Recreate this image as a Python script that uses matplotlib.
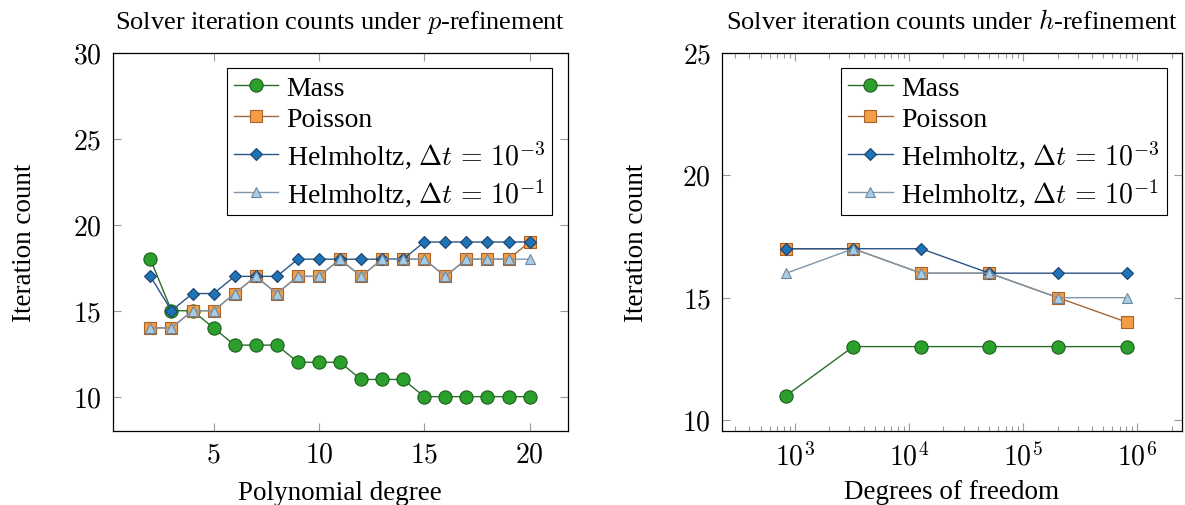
import numpy as np
import matplotlib
matplotlib.use("Agg")
import matplotlib.pyplot as plt
from matplotlib.ticker import FixedLocator, FuncFormatter, LogLocator, NullFormatter

plt.rcParams["font.family"] = ["Liberation Serif", "DejaVu Serif"]
plt.rcParams["mathtext.fontset"] = "cm"

# p-refinement
degrees = list(range(2, 21))
p_mass = [18, 15, 15, 14, 13, 13, 13, 12, 12, 12, 11, 11, 11, 10, 10, 10, 10, 10, 10]
p_poisson = [14, 14, 15, 15, 16, 17, 16, 17, 17, 18, 17, 18, 18, 18, 17, 18, 18, 18, 19]
p_helm3 = [17, 15, 16, 16, 17, 17, 17, 18, 18, 18, 18, 18, 18, 19, 19, 19, 19, 19, 19]
p_helm1 = [14, 14, 15, 15, 16, 17, 16, 17, 17, 18, 17, 18, 18, 18, 17, 18, 18, 18, 18]

# h-refinement
dofs = [841, 3249, 12769, 50625, 201601, 804609]
h_mass = [11, 13, 13, 13, 13, 13]
h_poisson = [17, 17, 16, 16, 15, 14]
h_helm3 = [17, 17, 17, 16, 16, 16]
h_helm1 = [16, 17, 16, 16, 15, 15]

labels = ["Mass", "Poisson", r"Helmholtz, $\Delta t\,=\,10^{-3}$", r"Helmholtz, $\Delta t\,=\,10^{-1}$"]
styles = [
    dict(marker="o", ms=9.5, color="#2b6e2b", mfc="#2ca02c", mec="#1d5e1d"),
    dict(marker="s", ms=8.5, color="#a0683c", mfc="#f59d45", mec="#a8622a"),
    dict(marker="D", ms=6, color="#2a5585", mfc="#1f72b4", mec="#1a4270"),
    dict(marker="^", ms=7.5, color="#7f97ad", mfc="#a7cde6", mec="#6c879e"),
]

fig = plt.figure(figsize=(11.85, 5.06), dpi=100)
ax1 = fig.add_axes([112.5 / 1185, 1 - 432 / 506, 455 / 1185, 378 / 506])
ax2 = fig.add_axes([722 / 1185, 1 - 432 / 506, 460 / 1185, 378 / 506])

for ys, lab, st in zip([p_mass, p_poisson, p_helm3, p_helm1], labels, styles):
    ax1.plot(degrees, ys, lw=1.0, mew=0.8, label=lab, **st)
for ys, lab, st in zip([h_mass, h_poisson, h_helm3, h_helm1], labels, styles):
    ax2.plot(dofs, ys, lw=1.0, mew=0.8, label=lab, **st)

mathfmt = FuncFormatter(lambda v, pos: r"$%d$" % v)

ax1.set_xlim(0.2, 21.8)
ax1.set_ylim(8, 30)
ax1.xaxis.set_major_locator(FixedLocator([5, 10, 15, 20]))
ax1.yaxis.set_major_locator(FixedLocator([10, 15, 20, 25, 30]))
ax1.xaxis.set_major_formatter(mathfmt)
ax1.yaxis.set_major_formatter(mathfmt)
ax1.set_title(r"Solver iteration counts under $p$-refinement", fontsize=19, pad=18)
ax1.set_xlabel("Polynomial degree", fontsize=19.5, labelpad=9)
ax1.set_ylabel("Iteration count", fontsize=19.5, labelpad=26)

ax2.set_xscale("log")
ax2.set_xlim(230, 2.46e6)
ax2.set_ylim(9.55, 25)
ax2.xaxis.set_major_locator(FixedLocator([1e3, 1e4, 1e5, 1e6]))
ax2.xaxis.set_major_formatter(FuncFormatter(lambda v, pos: r"$10^{%d}$" % round(np.log10(v))))
ax2.xaxis.set_minor_locator(LogLocator(base=10, subs=np.arange(2, 10)))
ax2.xaxis.set_minor_formatter(NullFormatter())
ax2.yaxis.set_major_locator(FixedLocator([10, 15, 20, 25]))
ax2.yaxis.set_major_formatter(mathfmt)
ax2.set_title(r"Solver iteration counts under $h$-refinement", fontsize=19, pad=18)
ax2.set_xlabel("Degrees of freedom", fontsize=19.5, labelpad=6)
ax2.set_ylabel("Iteration count", fontsize=19.5, labelpad=24)

for ax in (ax1, ax2):
    ax.tick_params(which="both", direction="in", top=True, right=True, color="#999999",
                   labelsize=20, width=0.8)
    ax.tick_params(which="major", length=6, pad=8)
    ax.tick_params(which="minor", length=3.5)
    for sp in ax.spines.values():
        sp.set_linewidth(0.9)
    leg = ax.legend(loc="upper right", fontsize=20, frameon=True, fancybox=False,
                    edgecolor="black", handlelength=1.6, handletextpad=0.3,
                    borderpad=0.25, labelspacing=0.22, borderaxespad=0.55)
    leg.get_frame().set_linewidth(0.8)
    leg.get_frame().set_alpha(1)

fig.savefig("out.png", dpi=100)
